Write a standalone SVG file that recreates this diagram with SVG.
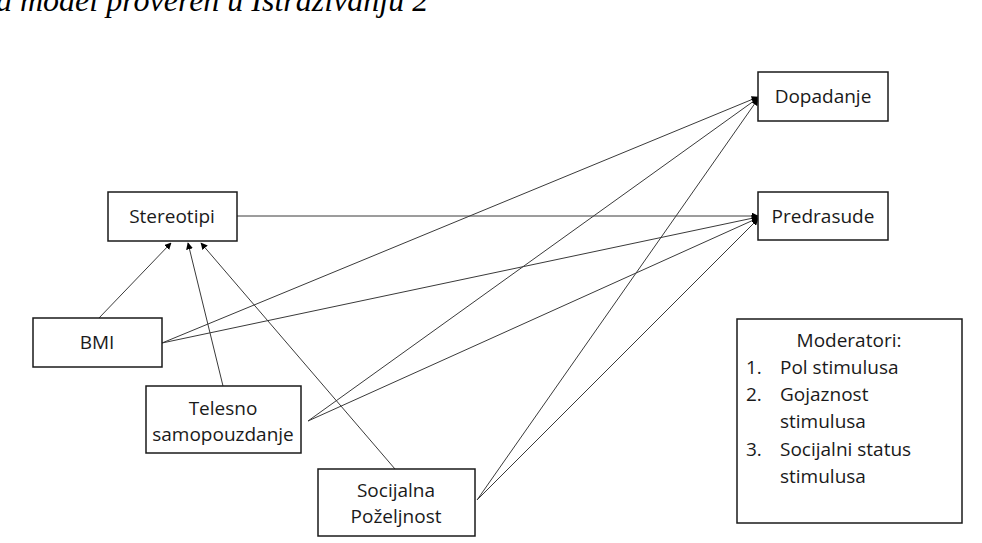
<svg xmlns="http://www.w3.org/2000/svg" width="982" height="543" viewBox="0 0 982 543">
  <style>
    .box { fill: #ffffff; stroke: #1a1a1a; stroke-width: 1.5; }
    .lbl { font-family: "Open Sans", "Liberation Sans", sans-serif; font-size: 19px; fill: #1a1a1a; }
    .mid { text-anchor: middle; }
    .edge { stroke: #3a3a3a; stroke-width: 1; fill: none; marker-end: url(#arrow); }
    .title { font-family: "Liberation Serif", serif; font-style: italic; font-size: 32px; fill: #000; }
  </style>
  <defs>
    <marker id="arrow" viewBox="0 0 10 10" refX="9" refY="5" markerWidth="7" markerHeight="7" markerUnits="userSpaceOnUse" orient="auto">
      <path d="M0,0 L10,5 L0,10 z" fill="#000"/>
    </marker>
  </defs>
  <rect width="982" height="543" fill="#ffffff"/>

  <text class="title" x="-4" y="11">a model proveren u Istraživanju 2</text>

  <g id="connectors">
    <line class="edge" x1="237" y1="216" x2="758" y2="216"/>
    <line class="edge" x1="99" y1="318" x2="171" y2="243"/>
    <line class="edge" x1="223" y1="386" x2="188" y2="243"/>
    <line class="edge" x1="395" y1="469" x2="201" y2="243"/>
    <line class="edge" x1="162" y1="343" x2="758" y2="97"/>
    <line class="edge" x1="162" y1="343" x2="758" y2="217"/>
    <line class="edge" x1="308" y1="421" x2="758" y2="98"/>
    <line class="edge" x1="308" y1="421" x2="758" y2="218"/>
    <line class="edge" x1="477" y1="500" x2="758" y2="99"/>
    <line class="edge" x1="477" y1="500" x2="758" y2="219"/>
  </g>

  <g id="stereotipi">
    <rect class="box" x="108" y="192" width="129" height="49"/>
    <text class="lbl mid" x="172" y="223">Stereotipi</text>
  </g>
  <g id="dopadanje">
    <rect class="box" x="758" y="72" width="130" height="49"/>
    <text class="lbl mid" x="823" y="103">Dopadanje</text>
  </g>
  <g id="predrasude">
    <rect class="box" x="758" y="192" width="130" height="48"/>
    <text class="lbl mid" x="823" y="223">Predrasude</text>
  </g>
  <g id="bmi">
    <rect class="box" x="33" y="318" width="129" height="49"/>
    <text class="lbl mid" x="97" y="349">BMI</text>
  </g>
  <g id="telesno">
    <rect class="box" x="146" y="386" width="155" height="67"/>
    <text class="lbl mid" x="223" y="415">Telesno</text>
    <text class="lbl mid" x="223" y="441">samopouzdanje</text>
  </g>
  <g id="socijalna">
    <rect class="box" x="318" y="469" width="157" height="67"/>
    <text class="lbl mid" x="396" y="497">Socijalna</text>
    <text class="lbl mid" x="396" y="523">Poželjnost</text>
  </g>
  <g id="moderatori">
    <rect class="box" x="737" y="319" width="225" height="204"/>
    <text class="lbl mid" x="849" y="347">Moderatori:</text>
    <text class="lbl" x="746" y="374">1.</text>
    <text class="lbl" x="780" y="374">Pol stimulusa</text>
    <text class="lbl" x="746" y="401">2.</text>
    <text class="lbl" x="780" y="401">Gojaznost</text>
    <text class="lbl" x="780" y="428">stimulusa</text>
    <text class="lbl" x="746" y="456">3.</text>
    <text class="lbl" x="780" y="456">Socijalni status</text>
    <text class="lbl" x="780" y="483">stimulusa</text>
  </g>
</svg>
